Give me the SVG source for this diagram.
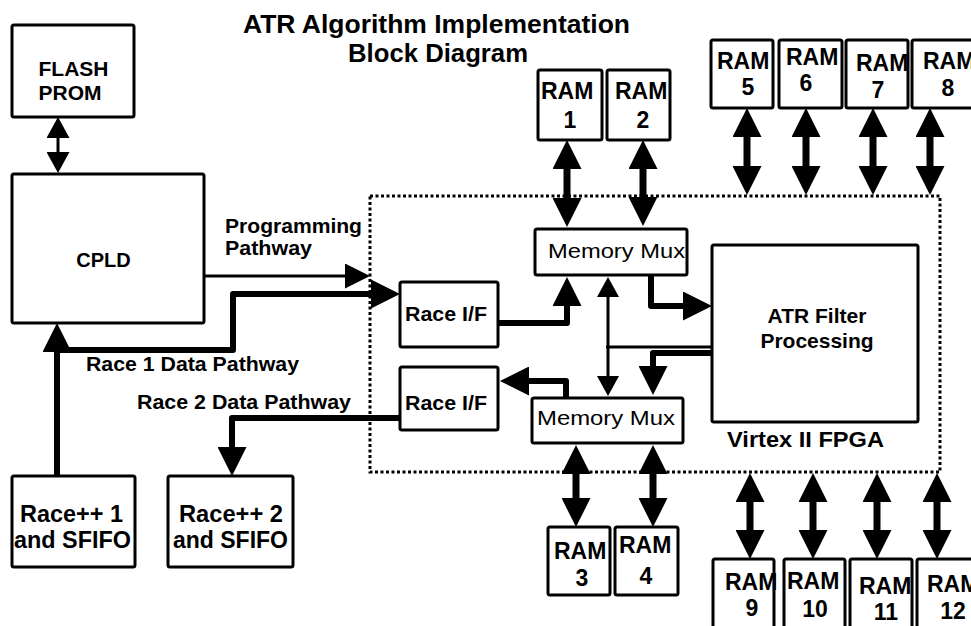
<svg xmlns="http://www.w3.org/2000/svg" width="971" height="626" viewBox="0 0 971 626">
<style>
.box{fill:#fff;stroke:#000;stroke-width:3}
.t{font-family:"Liberation Sans",Arial,sans-serif;font-weight:bold;fill:#000}
.r{font-family:"Liberation Sans",Arial,sans-serif;font-weight:normal;fill:#000}
.rm{font-family:"Liberation Sans",Arial,sans-serif;font-weight:bold;fill:#000;font-size:23px}
.thick{fill:none;stroke:#000;stroke-width:6;stroke-linejoin:round}
.thin{fill:none;stroke:#000;stroke-width:3}
.ram{fill:none;stroke:#000;stroke-width:7}
.fpga{fill:none;stroke:#000;stroke-width:3;stroke-dasharray:3 2.5}
</style>
<defs>
<marker id="ah" markerUnits="userSpaceOnUse" viewBox="0 0 29 29" refX="0" refY="14.5" markerWidth="29" markerHeight="29" orient="auto-start-reverse"><path d="M0,0 L29,14.5 L0,29 Z" fill="#000"/></marker>
<marker id="ahs" markerUnits="userSpaceOnUse" viewBox="0 0 25 25" refX="0" refY="12.5" markerWidth="25" markerHeight="25" orient="auto-start-reverse"><path d="M0,0 L25,12.5 L0,25 Z" fill="#000"/></marker>
<marker id="ahb" markerUnits="userSpaceOnUse" viewBox="0 0 20 22" refX="0" refY="11" markerWidth="20" markerHeight="22" orient="auto-start-reverse"><path d="M0,0 L20,11 L0,22 Z" fill="#000"/></marker>
<marker id="ahf" markerUnits="userSpaceOnUse" viewBox="0 0 21 23" refX="0" refY="11.5" markerWidth="21" markerHeight="23" orient="auto-start-reverse"><path d="M0,0 L21,11.5 L0,23 Z" fill="#000"/></marker>
</defs>

<g id="title">
<text class="t" x="243" y="33" font-size="26" textLength="387" lengthAdjust="spacingAndGlyphs">ATR Algorithm Implementation</text>
<text class="t" x="348" y="62" font-size="26" textLength="180" lengthAdjust="spacingAndGlyphs">Block Diagram</text>
</g>

<rect id="fpga-boundary" class="fpga" x="370" y="196" width="570" height="276"/>

<g id="flash-prom"><rect class="box" x="12" y="25" width="122" height="92" rx="2"/>
<text class="t" x="73.5" y="76" font-size="21" text-anchor="middle">FLASH</text>
<text class="t" x="70" y="100" font-size="21" text-anchor="middle">PROM</text></g>

<g id="cpld"><rect class="box" x="12" y="174" width="192" height="149" rx="2"/>
<text class="t" x="103.5" y="267" font-size="20" text-anchor="middle">CPLD</text></g>

<g id="race-if-1"><rect class="box" x="400" y="282" width="98" height="65" rx="2"/>
<text class="t" x="405" y="321" font-size="20" textLength="82" lengthAdjust="spacingAndGlyphs">Race I/F</text></g>

<g id="race-if-2"><rect class="box" x="400" y="367" width="98" height="63" rx="2"/>
<text class="t" x="405" y="410" font-size="20" textLength="82" lengthAdjust="spacingAndGlyphs">Race I/F</text></g>

<g id="memory-mux-1"><rect class="box" x="535" y="229" width="152" height="46" rx="2"/>
<text class="r" x="548" y="258" font-size="21" textLength="137" lengthAdjust="spacingAndGlyphs">Memory Mux</text></g>

<g id="memory-mux-2"><rect class="box" x="532" y="398" width="151" height="45" rx="2"/>
<text class="r" x="537" y="425" font-size="21" textLength="138" lengthAdjust="spacingAndGlyphs">Memory Mux</text></g>

<g id="atr-filter"><rect class="box" x="712" y="245" width="206" height="177" rx="2"/>
<text class="t" x="817" y="323" font-size="21" text-anchor="middle">ATR Filter</text>
<text class="t" x="817" y="348" font-size="21" text-anchor="middle">Processing</text></g>

<g id="virtex-label"><text class="t" x="727" y="447" font-size="22" textLength="157" lengthAdjust="spacingAndGlyphs">Virtex II FPGA</text></g>

<g id="race-1"><rect class="box" x="12" y="476" width="123" height="91" rx="2"/>
<text class="t" x="20" y="522" font-size="23" textLength="103" lengthAdjust="spacingAndGlyphs">Race++ 1</text>
<text class="t" x="14" y="548" font-size="23" textLength="117" lengthAdjust="spacingAndGlyphs">and SFIFO</text></g>

<g id="race-2"><rect class="box" x="168" y="476" width="125" height="91" rx="2"/>
<text class="t" x="179" y="522" font-size="23" textLength="104" lengthAdjust="spacingAndGlyphs">Race++ 2</text>
<text class="t" x="173" y="548" font-size="23" textLength="115" lengthAdjust="spacingAndGlyphs">and SFIFO</text></g>

<g id="ram-1"><rect class="box" x="538" y="70" width="64" height="70" rx="2"/>
<text class="rm" x="541" y="99">RAM</text><text class="rm" x="570" y="128" text-anchor="middle">1</text></g>
<g id="ram-2"><rect class="box" x="607" y="70" width="63" height="70" rx="2"/>
<text class="rm" x="615" y="99">RAM</text><text class="rm" x="643" y="128" text-anchor="middle">2</text></g>
<g id="ram-3"><rect class="box" x="548" y="527" width="62" height="68" rx="2"/>
<text class="rm" x="554" y="559">RAM</text><text class="rm" x="582" y="586" text-anchor="middle">3</text></g>
<g id="ram-4"><rect class="box" x="615" y="527" width="63" height="68" rx="2"/>
<text class="rm" x="619" y="553">RAM</text><text class="rm" x="646" y="584" text-anchor="middle">4</text></g>
<g id="ram-5"><rect class="box" x="711" y="40" width="62" height="68" rx="2"/>
<text class="rm" x="717" y="69">RAM</text><text class="rm" x="748" y="95" text-anchor="middle">5</text></g>
<g id="ram-6"><rect class="box" x="779" y="40" width="63" height="68" rx="2"/>
<text class="rm" x="786" y="65">RAM</text><text class="rm" x="806" y="91" text-anchor="middle">6</text></g>
<g id="ram-7"><rect class="box" x="846" y="40" width="62" height="68" rx="2"/>
<text class="rm" x="856" y="71">RAM</text><text class="rm" x="878" y="98" text-anchor="middle">7</text></g>
<g id="ram-8"><rect class="box" x="912" y="40" width="73" height="68" rx="2"/>
<text class="rm" x="923" y="69">RAM</text><text class="rm" x="948" y="96" text-anchor="middle">8</text></g>
<g id="ram-9"><rect class="box" x="713" y="559" width="61" height="90" rx="2"/>
<text class="rm" x="725" y="590">RAM</text><text class="rm" x="752" y="616" text-anchor="middle">9</text></g>
<g id="ram-10"><rect class="box" x="784" y="559" width="61" height="90" rx="2"/>
<text class="rm" x="787" y="589">RAM</text><text class="rm" x="815" y="617" text-anchor="middle">10</text></g>
<g id="ram-11"><rect class="box" x="850" y="559" width="62" height="90" rx="2"/>
<text class="rm" x="859" y="594">RAM</text><text class="rm" x="886" y="620" text-anchor="middle">11</text></g>
<g id="ram-12"><rect class="box" x="917" y="559" width="68" height="90" rx="2"/>
<text class="rm" x="927" y="592">RAM</text><text class="rm" x="953" y="619" text-anchor="middle">12</text></g>

<g id="labels">
<text class="t" x="225" y="233" font-size="20" textLength="137" lengthAdjust="spacingAndGlyphs">Programming</text>
<text class="t" x="225" y="255" font-size="20" textLength="87" lengthAdjust="spacingAndGlyphs">Pathway</text>
<text class="t" x="86" y="371" font-size="20" textLength="213" lengthAdjust="spacingAndGlyphs">Race 1 Data Pathway</text>
<text class="t" x="137" y="409" font-size="20" textLength="214" lengthAdjust="spacingAndGlyphs">Race 2 Data Pathway</text>
</g>

<g id="connectors">
<line class="thin" x1="58" y1="138" x2="58" y2="152" stroke-width="6" marker-start="url(#ahf)" marker-end="url(#ahf)"/>
<line class="thick" x1="57" y1="477" x2="57" y2="352" marker-end="url(#ah)"/>
<path class="thick" d="M57 350 H233 V294 H371" marker-end="url(#ah)"/>
<path class="thin" d="M204 276 H345" marker-end="url(#ahs)"/>
<path class="thick" d="M497 323 H567 V306" marker-end="url(#ah)"/>
<path class="thick" d="M651 275 V306 H683" marker-end="url(#ah)"/>
<path class="thick" d="M712 353 H653 V366" marker-end="url(#ah)"/>
<path class="thick" d="M566 398 V381 H529" marker-end="url(#ah)"/>
<path class="thick" d="M400 418 H232 V447" marker-end="url(#ah)"/>
<line class="thin" x1="608" y1="297" x2="608" y2="376" marker-start="url(#ahb)" marker-end="url(#ahb)"/>
<line class="thin" x1="606" y1="347" x2="712" y2="347"/>
<line class="ram" x1="567" y1="169" x2="567" y2="198" marker-start="url(#ah)" marker-end="url(#ah)"/>
<line class="ram" x1="643" y1="169" x2="643" y2="197" marker-start="url(#ah)" marker-end="url(#ah)"/>
<line class="ram" x1="747" y1="137" x2="747" y2="166" marker-start="url(#ah)" marker-end="url(#ah)"/>
<line class="ram" x1="806" y1="137" x2="806" y2="166" marker-start="url(#ah)" marker-end="url(#ah)"/>
<line class="ram" x1="873" y1="137" x2="873" y2="166" marker-start="url(#ah)" marker-end="url(#ah)"/>
<line class="ram" x1="930" y1="137" x2="930" y2="166" marker-start="url(#ah)" marker-end="url(#ah)"/>
<line class="ram" x1="576" y1="474" x2="576" y2="498" marker-start="url(#ah)" marker-end="url(#ah)"/>
<line class="ram" x1="653" y1="474" x2="653" y2="498" marker-start="url(#ah)" marker-end="url(#ah)"/>
<line class="ram" x1="750" y1="502" x2="750" y2="530" marker-start="url(#ah)" marker-end="url(#ah)"/>
<line class="ram" x1="813" y1="502" x2="813" y2="530" marker-start="url(#ah)" marker-end="url(#ah)"/>
<line class="ram" x1="877" y1="502" x2="877" y2="530" marker-start="url(#ah)" marker-end="url(#ah)"/>
<line class="ram" x1="937" y1="502" x2="937" y2="530" marker-start="url(#ah)" marker-end="url(#ah)"/>
</g>
</svg>
